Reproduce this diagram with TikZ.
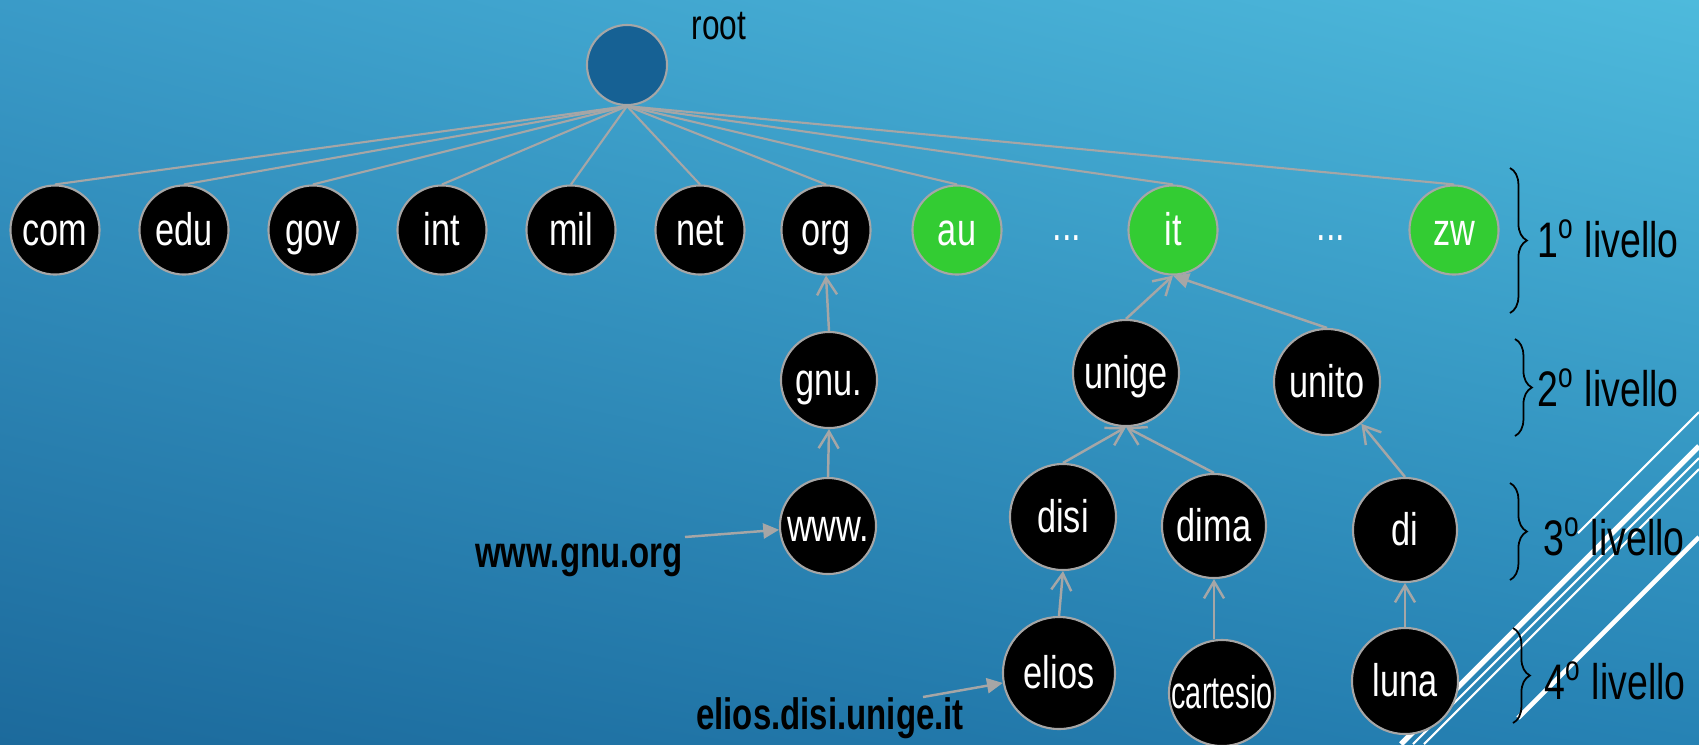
\documentclass[tikz,border=0pt]{standalone}
\usepackage{fontspec}
\setmainfont[FakeStretch=0.75]{Liberation Sans}
\newfontfamily\narrowfont[FakeStretch=0.63]{Liberation Sans}
\usetikzlibrary{arrows.meta,decorations.pathreplacing,shadings}
\definecolor{edgegray}{RGB}{166,166,166}
\definecolor{ccgreen}{RGB}{51,204,51}
\definecolor{rootblue}{RGB}{22,97,148}
\definecolor{bgul}{RGB}{58,155,200}
\definecolor{bgur}{RGB}{78,186,220}
\definecolor{bgll}{RGB}{28,106,156}
\definecolor{bglr}{RGB}{38,130,180}

\begin{document}
\begin{tikzpicture}[x=0.01cm, y=-0.01cm,
		dns/.style={circle, draw=edgegray, line width=0.6pt, fill=black, text=white, inner sep=0pt, minimum size=#1, text height=9pt, text depth=0pt, font=\fontsize{13}{15}\selectfont},
		tld/.style={dns=0.89cm},
		cctld/.style={dns=0.89cm, fill=ccgreen},
		link/.style={edgegray, line width=0.6pt},
		up/.style={edgegray, line width=0.7pt, -{Straight Barb[length=4.8pt,width=5.7pt]}},
		upfill/.style={edgegray, line width=0.7pt, -{Triangle[length=4.5pt,width=4.3pt]}},
		lvl/.style={font=\fontsize{14.2}{17}\selectfont},
		bracer/.style={decorate, decoration={brace, amplitude=4.8pt}, line width=0.5pt},
		fqdn/.style={font=\bfseries\fontsize{12.5}{15}\selectfont}]
		%%%%% START %%%%%
		
		\useasboundingbox (0,0) rectangle (1699,744);
		\shade[upper left=bgul, upper right=bgur, lower left=bgll, lower right=bglr] (0,0) rectangle (1699,744);
		
		\draw[white, line width=0.6pt] (1699,412) -- (1578,533);
		\draw[white, line width=1.5pt] (1699,446) -- (1401,744);
		\draw[white, line width=0.6pt] (1699,458) -- (1413,744);
		\draw[white, line width=0.6pt] (1699,469) -- (1424,744);
		\draw[white, line width=1.3pt] (1699,537) -- (1518,718);
		
		\node[dns=0.80cm, fill=rootblue] (root) at (627,65) {};
		\node[font=\fontsize{12}{14}\selectfont] (rootlbl) at (719,26) {root};
		
		\node[tld] (com) at (55,230) {com};
		\node[tld] (edu) at (184,230) {edu};
		\node[tld] (gov) at (313,230) {gov};
		\node[tld] (int) at (442,230) {int};
		\node[tld] (mil) at (571,230) {mil};
		\node[tld] (net) at (700,230) {net};
		\node[tld] (org) at (826,230) {org};
		\node[cctld] (au) at (957,230) {au};
		\node[text=white, font=\fontsize{13}{15}\selectfont] (dotsa) at (1067,238) {...};
		\node[cctld] (it) at (1173,230) {it};
		\node[text=white, font=\fontsize{13}{15}\selectfont] (dotsb) at (1331,238) {...};
		\node[cctld] (zw) at (1454,230) {zw};
		
		\draw[link] (root.south) -- (com.north);
		\draw[link] (root.south) -- (edu.north);
		\draw[link] (root.south) -- (gov.north);
		\draw[link] (root.south) -- (int.north);
		\draw[link] (root.south) -- (mil.north);
		\draw[link] (root.south) -- (net.north);
		\draw[link] (root.south) -- (org.north);
		\draw[link] (root.south) -- (au.north);
		\draw[link] (root.south) -- (it.north);
		\draw[link] (root.south) -- (zw.north);
		
		\node[dns=0.96cm] (gnu) at (829,380) {gnu.};
		\node[dns=0.96cm] (www) at (828,526) {www.};
		\node[dns=1.06cm] (unige) at (1126,373) {unige};
		\node[dns=1.06cm] (unito) at (1327,382) {unito};
		\node[dns=1.06cm] (disi) at (1063,517) {disi};
		\node[dns=1.04cm] (dima) at (1214,526) {dima};
		\node[dns=1.04cm] (di) at (1405,530) {di};
		\node[dns=1.12cm] (elios) at (1059,673) {elios};
		\node[dns=1.06cm] (cartesio) at (1222,693) {\narrowfont\makebox[0pt]{cartesio}};
		\node[dns=1.06cm] (luna) at (1405,681) {luna};
		
		\draw[up] (gnu.north) -- (org.south);
		\draw[up] (www.north) -- (gnu.south);
		\draw[up] (unige.north) -- (it.south);
		\draw[upfill] (unito.north) -- (it.south);
		\draw[up] (disi.north) -- (unige.south);
		\draw[up] (dima.north) -- (unige.south);
		\draw[up] (di.north) -- (unito);
		\draw[up] (elios.north) -- (disi.south);
		\draw[up] (dima.south |- cartesio.north) -- (dima.south);
		\draw[up] (luna.north) -- (di.south);
		
		\node[fqdn] (lblgnu) at (579,560) {www.gnu.org};
		\coordinate (srca) at (685,537);
		\draw[upfill] (srca) -- (www);
		
		\node[fqdn] (lblelios) at (830,718) {elios.disi.unige.it};
		\coordinate (srcb) at (923,697);
		\draw[upfill] (srcb) -- (elios);
		
		\draw[bracer] (1510,168) -- (1510,313);
		\node[lvl] (lv1) at (1608,239) {1\textsuperscript{o} livello};
		\draw[bracer] (1515,339) -- (1515,436);
		\node[lvl] (lv2) at (1608,388) {2\textsuperscript{o} livello};
		\draw[bracer] (1510,483) -- (1510,580);
		\node[lvl] (lv3) at (1614,537) {3\textsuperscript{o} livello};
		\draw[bracer] (1513,628) -- (1513,723);
		\node[lvl] (lv4) at (1615,681) {4\textsuperscript{o} livello};
		
		%%%%% END %%%%%
	\end{tikzpicture}
\end{document}
